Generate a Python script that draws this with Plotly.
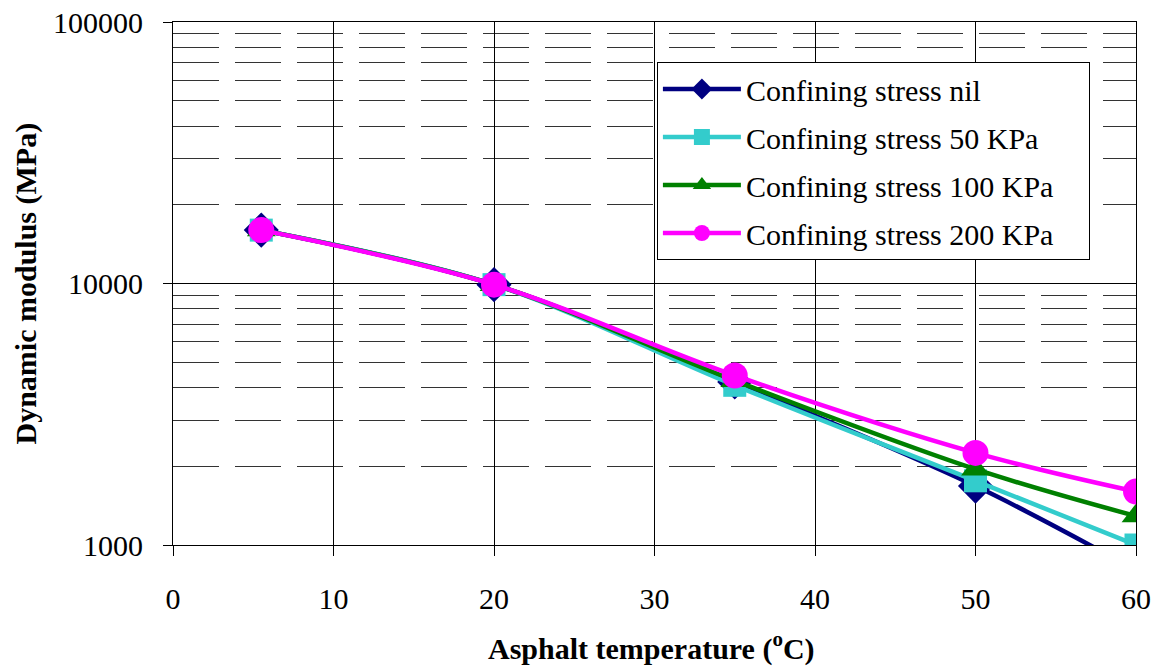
import plotly.graph_objects as go

temps = [5.5, 20, 35, 50, 60]
mod_nil = [16000, 9900, 4200, 1680, 800]
mod_50 = [16000, 9900, 4080, 1760, 1000]
mod_100 = [16000, 9900, 4250, 1950, 1290]
mod_200 = [16000, 9900, 4450, 2250, 1600]

names = ["Confining stress nil", "Confining stress 50 KPa",
         "Confining stress 100 KPa", "Confining stress 200 KPa"]
series = [mod_nil, mod_50, mod_100, mod_200]
colors = ["#000080", "#33CCCC", "#008000", "#FF00FF"]
symbols = ["diamond", "square", "triangle-up", "circle"]
sizes = [27, 23, 25, 26]

FONT = "Liberation Serif"

fig = go.Figure()
for i, (nm, ys) in enumerate(zip(names, series)):
    fig.add_trace(go.Scatter(
        x=temps, y=ys, name=nm + ("\u00a0" * 4 if i == 3 else ""),
        mode="lines+markers",
        line=dict(color=colors[i], width=4.5, shape="spline", smoothing=1),
        marker=dict(color=colors[i], symbol=symbols[i], size=sizes[i]),
        legendgroup=f"g{i}",
    ))

fig.update_layout(
    width=1152, height=668,
    margin=dict(l=173, r=16, t=22, b=123, autoexpand=False),
    paper_bgcolor="white", plot_bgcolor="white",
    font=dict(family=FONT, size=30, color="black"),
    showlegend=True,
    legend=dict(
        x=0.5025, y=0.9235, xanchor="left", yanchor="top",
        bgcolor="white", bordercolor="black", borderwidth=1,
        font=dict(family=FONT, size=30, color="black"),
        tracegroupgap=6, itemwidth=78,
    ),
    xaxis=dict(
        range=[0, 60], dtick=10, tick0=0, automargin=False,
        showgrid=True, gridcolor="black", gridwidth=1,
        showline=True, linecolor="black", linewidth=1, mirror=True,
        ticks="outside", ticklen=10, tickcolor="black",
        ticklabelstandoff=17, zeroline=False, ticklabeloverflow="allow",
        tickfont=dict(family=FONT, size=30),
    ),
    yaxis=dict(
        type="log", range=[3, 5], dtick=1, tickformat="d", automargin=False,
        showgrid=True, gridcolor="black", gridwidth=1,
        showline=True, linecolor="black", linewidth=1, mirror=True,
        ticks="outside", ticklen=9, tickcolor="black",
        ticklabelstandoff=14, ticklabeloverflow="allow",
        tickfont=dict(family=FONT, size=30),
        minor=dict(dtick="D1", showgrid=True, gridcolor="#333333",
                   gridwidth=1, griddash="46px,16px", ticks=""),
    ),
    annotations=[
        dict(text="<b>Asphalt temperature (<sup>o</sup>C)</b>",
             xref="paper", yref="paper", x=(651 - 173) / 963, y=(545 - 646) / 523,
             xanchor="center", yanchor="middle", showarrow=False,
             font=dict(family=FONT, size=30)),
        dict(text="<b>Dynamic modulus (MPa)</b>",
             xref="paper", yref="paper", x=(25 - 173) / 963, y=0.5,
             xanchor="center", yanchor="middle", showarrow=False, textangle=-90,
             font=dict(family=FONT, size=30)),
    ],
)

fig.write_html(
    "out.html",
    config={"displayModeBar": False},
    post_script="document.body.style.margin='0';document.body.style.overflow='hidden';",
)
